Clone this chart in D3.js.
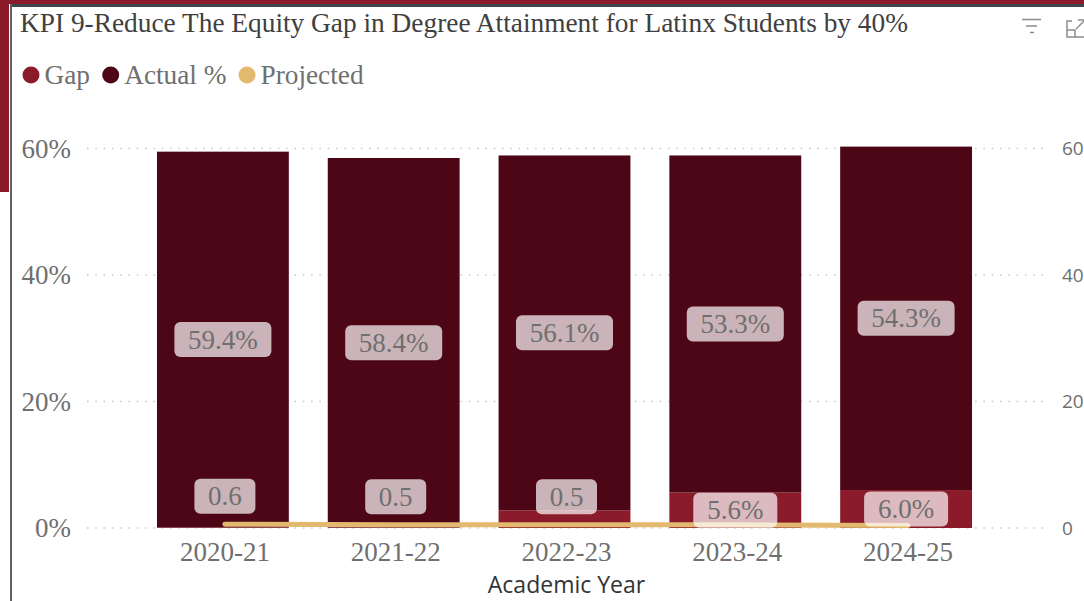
<!DOCTYPE html>
<html>
<head>
<meta charset="utf-8">
<script src="https://cdn.jsdelivr.net/npm/d3@7"></script>
<style>
html, body { margin: 0; padding: 0; background: #fff; overflow: hidden; }
svg { display: block; }
</style>
</head>
<body>
<svg id="chart" width="1084" height="601"></svg>
<script>
// Chart content
const titleText = "KPI 9-Reduce The Equity Gap in Degree Attainment for Latinx Students by 40%";
const xTitle = "Academic Year";
const years = ["2020-21", "2021-22", "2022-23", "2023-24", "2024-25"];
const gap = [0.1, 0.1, 2.8, 5.6, 6.0];
const actual = [59.4, 58.4, 56.1, 53.3, 54.3];
const projected = [0.6, 0.5, 0.5, 0.5, 0.4];
const projectedLabelled = [true, true, true, false, false];
const gapLabelled = [false, false, false, true, true];
const leftTicks = [0, 20, 40, 60];
const legendItems = ["Gap", "Actual %", "Projected"];

const colors = { gap: "#8b1a2b", actual: "#4d0616", projected: "#e2b96f", text: "#6f6f6f", grid: "#c8c8c8" };
const serif = "'Liberation Serif', serif";
const width = 1084, height = 601;

const svg = d3.select("#chart");

// Page frame behind the visual
svg.append("rect").attr("x", 0).attr("y", 0).attr("width", 9).attr("height", 192).attr("fill", colors.gap);
svg.append("rect").attr("x", 0).attr("y", 0).attr("width", width).attr("height", 4).attr("fill", colors.gap);
svg.append("rect").attr("x", 10).attr("y", 4).attr("width", width - 10).attr("height", 3).attr("fill", "#3d464c");
svg.append("rect").attr("x", 10).attr("y", 4).attr("width", 2).attr("height", height - 4).attr("fill", "#5e6266");

// Scales
const x = d3.scaleBand().domain(years).range([137.5, 991.5]).paddingInner(0.228).paddingOuter(0.114);
const y = d3.scaleLinear().domain([0, 60]).range([528, 148.5]);
const yRight = d3.scaleLinear().domain([0, 60]).range([528, 148.5]);
const lineShift = 2;

// Title
svg.append("text").attr("x", 20).attr("y", 32)
  .attr("font-family", serif).attr("font-size", 27.35).attr("fill", "#404040").text(titleText);

// Legend
const legendX = [31, 110.7, 247];
const legendColors = [colors.gap, colors.actual, colors.projected];
legendItems.forEach((name, i) => {
  svg.append("circle").attr("cx", legendX[i]).attr("cy", 75).attr("r", 8.5).attr("fill", legendColors[i]);
  svg.append("text").attr("x", legendX[i] + 13.5).attr("y", 84)
    .attr("font-family", serif).attr("font-size", 27.3).attr("fill", colors.text).text(name);
});

// Gridlines
svg.append("g").selectAll("line").data(leftTicks).join("line")
  .attr("x1", 87).attr("x2", 1046)
  .attr("y1", d => y(d)).attr("y2", d => y(d))
  .attr("stroke", colors.grid).attr("stroke-width", 1.5).attr("stroke-dasharray", "1.5 6.8");

// Value axes
const leftAxis = svg.append("g").attr("transform", "translate(71,0)")
  .call(d3.axisLeft(y).tickValues(leftTicks).tickFormat(d => d + "%").tickSize(0).tickPadding(0));
const rightAxis = svg.append("g").attr("transform", "translate(1062,0)")
  .call(d3.axisRight(yRight).tickValues(leftTicks).tickSize(0).tickPadding(0));
leftAxis.select(".domain").remove();
rightAxis.select(".domain").remove();
leftAxis.selectAll("text").attr("font-family", serif).attr("font-size", 27).attr("fill", colors.text);
rightAxis.selectAll("text").attr("font-family", "'Open Sans', sans-serif").attr("font-size", 19).attr("fill", colors.text);

// Category axis
const bottomAxis = svg.append("g").attr("transform", "translate(2,528)")
  .call(d3.axisBottom(x).tickSize(0).tickPadding(14));
bottomAxis.select(".domain").remove();
bottomAxis.selectAll("text").attr("font-family", serif).attr("font-size", 27).attr("fill", colors.text);

svg.append("text").attr("x", 566.5).attr("y", 592.5).attr("text-anchor", "middle")
  .attr("font-family", "'Open Sans', sans-serif").attr("font-size", 23).attr("fill", "#333").text(xTitle);

// Stacked bars: gap at the base, actual on top
const rows = years.map((year, i) => ({ year, gap: gap[i], actual: actual[i], projected: projected[i], i }));
svg.append("g").selectAll("rect").data(rows).join("rect")
  .attr("x", d => x(d.year)).attr("width", x.bandwidth())
  .attr("y", d => y(d.gap)).attr("height", d => y(0) - y(d.gap))
  .attr("fill", colors.gap);
svg.append("g").selectAll("rect").data(rows).join("rect")
  .attr("x", d => x(d.year)).attr("width", x.bandwidth())
  .attr("y", d => y(d.gap + d.actual)).attr("height", d => y(d.gap) - y(d.gap + d.actual))
  .attr("fill", colors.actual);

// Projected line
const line = d3.line().x(d => x(d.year) + x.bandwidth() / 2 + lineShift).y(d => y(d.projected));
svg.append("path").attr("d", line(rows)).attr("fill", "none")
  .attr("stroke", colors.projected).attr("stroke-width", 5).attr("stroke-linecap", "round");

// Data labels on translucent rounded plates
function plate(cx, cy, w, h, label) {
  const g = svg.append("g");
  g.append("rect").attr("x", cx - w / 2).attr("y", cy - h / 2).attr("width", w).attr("height", h)
    .attr("rx", 6).attr("fill", "#fff").attr("fill-opacity", 0.7);
  g.append("text").attr("x", cx).attr("y", cy + 9).attr("text-anchor", "middle")
    .attr("font-family", serif).attr("font-size", 27).attr("fill", colors.text).text(label);
}
rows.forEach(d => {
  const cx = x(d.year) + x.bandwidth() / 2;
  plate(cx, y(d.gap + d.actual / 2), 97, 35, d.actual.toFixed(1) + "%");
  if (gapLabelled[d.i]) plate(cx, y(d.gap / 2), 84, 35, d.gap.toFixed(1) + "%");
  if (projectedLabelled[d.i]) plate(cx + lineShift, y(d.projected) - 28, 61, 35, d.projected.toFixed(1));
});

// Visual header icons
const icons = svg.append("g").attr("fill", "none").attr("stroke", "#8c8c8c").attr("stroke-width", 1.5);
icons.append("path").attr("d", "M1022 19.5H1041M1026 26H1037M1030 32.5H1034");
icons.append("path").attr("d", "M1072 21H1067V37H1084M1067 30H1075V37M1076 29L1084 21M1078 20H1084");
</script>
</body>
</html>
